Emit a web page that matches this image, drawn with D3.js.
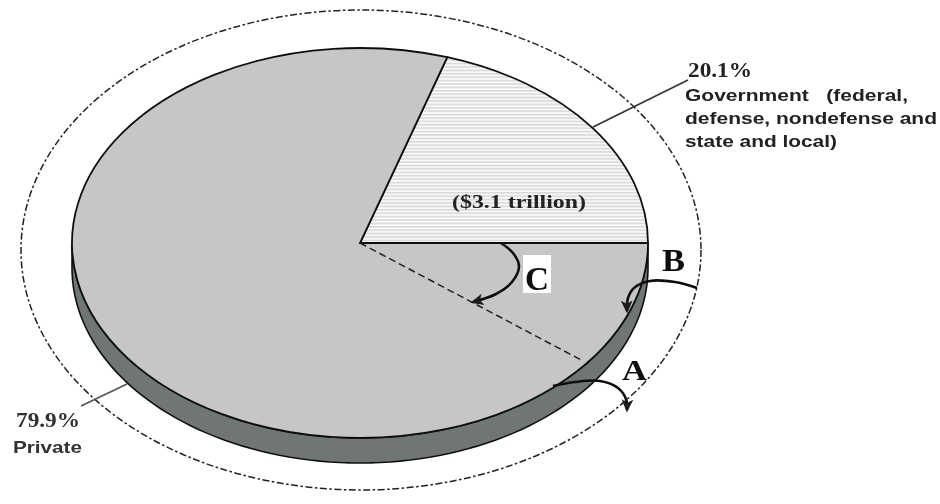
<!DOCTYPE html>
<html>
<head>
<meta charset="utf-8">
<script src="https://cdn.jsdelivr.net/npm/d3@7"></script>
<style>
html,body{margin:0;padding:0;background:#fff;overflow:hidden}
svg{display:block}
</style>
</head>
<body>
<svg id="c" width="940" height="504"></svg>
<script>
const categories = ["Government", "Private"];
const shares = [20.1, 79.9];
const shareLabels = ["20.1%", "79.9%"];
const governmentLines = ["Government   (federal,", "defense, nondefense and", "state and local)"];
const privateLabel = "Private";
const amountLabel = "($3.1 trillion)";
const fills = ["url(#hatch)", "#c6c6c6"];

const W = 940, H = 504;
const cx = 360, cy = 243, rx = 288, ry = 195, depth = 25;
const rad = d => d * Math.PI / 180;
const endAngle = rad(90);

const svg = d3.select("#c");
const defs = svg.append("defs");

const softFilter = defs.append("filter").attr("id", "soft")
  .attr("filterUnits", "userSpaceOnUse")
  .attr("x", 0).attr("y", 0).attr("width", W).attr("height", H);
softFilter.append("feGaussianBlur").attr("stdDeviation", 0.6);

const hatch = defs.append("pattern").attr("id", "hatch")
  .attr("patternUnits", "userSpaceOnUse")
  .attr("width", 8).attr("height", 3.4)
  .attr("patternTransform", `scale(1,${rx / ry})`);
hatch.append("rect").attr("width", 8).attr("height", 3.4).attr("fill", "#f8f8f8");
hatch.append("rect").attr("width", 8).attr("height", 1.5).attr("fill", "#d8d8d8");

defs.append("marker").attr("id", "head")
  .attr("viewBox", "0 0 10 10").attr("refX", 8).attr("refY", 5)
  .attr("markerWidth", 13).attr("markerHeight", 13)
  .attr("markerUnits", "userSpaceOnUse").attr("orient", "auto")
  .append("path").attr("d", "M0,0.5L10,5L0,9.5L2.5,5Z").attr("fill", "#1a1a1a");

const root = svg.append("g").attr("filter", "url(#soft)");
root.append("rect").attr("width", W).attr("height", H).attr("fill", "#fff");

// outer dash-dot boundary
root.append("ellipse")
  .attr("cx", 361).attr("cy", 250).attr("rx", 340).attr("ry", 240)
  .attr("fill", "none").attr("stroke", "#222").attr("stroke-width", 1.5)
  .attr("stroke-dasharray", "7 2.5 2.5 2.5");

// leader lines
const leader = d3.line();
root.append("path").attr("d", leader([[593, 127], [688, 80]]))
  .attr("stroke", "#333").attr("stroke-width", 1.6).attr("fill", "none");
root.append("path").attr("d", leader([[127, 384], [81, 406]]))
  .attr("stroke", "#555").attr("stroke-width", 1.7).attr("fill", "none");

// extruded side
const lowerHalf = d3.range(90, 270.5, 2).map(rad);
const px = a => rx * Math.sin(a), py = a => -ry * Math.cos(a);
const sidePts = lowerHalf.map(a => [cx + px(a), cy + py(a)])
  .concat(lowerHalf.slice().reverse().map(a => [cx + px(a), cy + depth + py(a)]));
root.append("path").attr("d", d3.line()(sidePts) + "Z")
  .attr("fill", "#6f7575").attr("stroke", "#111").attr("stroke-width", 1.6);

// pie top, through d3.pie/d3.arc, squashed into an ellipse
const startAngle = endAngle - 2 * Math.PI * shares[0] / d3.sum(shares);
const pie = d3.pie().sort(null).startAngle(startAngle).endAngle(startAngle + 2 * Math.PI);
const arc = d3.arc().innerRadius(0).outerRadius(rx);
const pieTop = root.append("g").attr("transform", `translate(${cx},${cy}) scale(1,${ry / rx})`);
pieTop.selectAll("path").data(pie(shares)).join("path")
  .attr("d", arc)
  .attr("fill", (d, i) => fills[i])
  .attr("stroke", "#111").attr("stroke-width", 1.8)
  .attr("vector-effect", "non-scaling-stroke");

// dashed radial line
const dashA = rad(128);
root.append("path")
  .attr("d", d3.line()([[cx, cy], [cx + 0.98 * px(dashA), cy + 0.98 * py(dashA)]]))
  .attr("stroke", "#222").attr("stroke-width", 1.5).attr("stroke-dasharray", "7 4").attr("fill", "none");

// curved arrows
const curve = d3.line().curve(d3.curveCatmullRom.alpha(0.5));
const arrows = [
  [[501, 243], [513, 253], [519, 266], [512, 282], [496, 294], [473, 302]],
  [[697, 288], [675, 282], [650, 281], [634, 288], [628, 298], [627, 311]],
  [[553, 386], [575, 382], [600, 381], [618, 388], [626, 399], [627, 410]]
];
root.selectAll("path.arrow").data(arrows).join("path").attr("class", "arrow")
  .attr("d", curve).attr("fill", "none").attr("stroke", "#111")
  .attr("stroke-width", 2.6).attr("marker-end", "url(#head)");

// C box
root.append("rect").attr("x", 523).attr("y", 255).attr("width", 28).attr("height", 38).attr("fill", "#fff");

// text
const serif = "'Liberation Serif', serif", sans = "'Liberation Sans', sans-serif";
function addLabel(t, x, y, size, fam, len, fill) {
  const el = root.append("text").attr("x", x).attr("y", y)
    .attr("font-family", fam).attr("font-size", size).attr("font-weight", "bold")
    .attr("fill", fill || "#222").style("white-space", "pre").text(t);
  if (len) el.attr("textLength", len).attr("lengthAdjust", "spacingAndGlyphs");
  return el;
}
addLabel(shareLabels[0], 688, 77, 20, serif, 64);
addLabel(governmentLines[0], 685, 101, 17, sans, 223);
addLabel(governmentLines[1], 685, 124, 17, sans, 252);
addLabel(governmentLines[2], 685, 147, 17, sans, 152);
addLabel(shareLabels[1], 16, 427, 20, serif, 64, "#333");
addLabel(privateLabel, 13, 453, 17, sans, 69, "#333");
addLabel(amountLabel, 452, 208, 19, serif, 134);
addLabel("C", 525, 290, 34, serif, 24, "#111");
addLabel("B", 662, 271, 32, serif, 23, "#111");
addLabel("A", 622, 380, 30, serif, 25, "#111");
</script>
</body>
</html>
